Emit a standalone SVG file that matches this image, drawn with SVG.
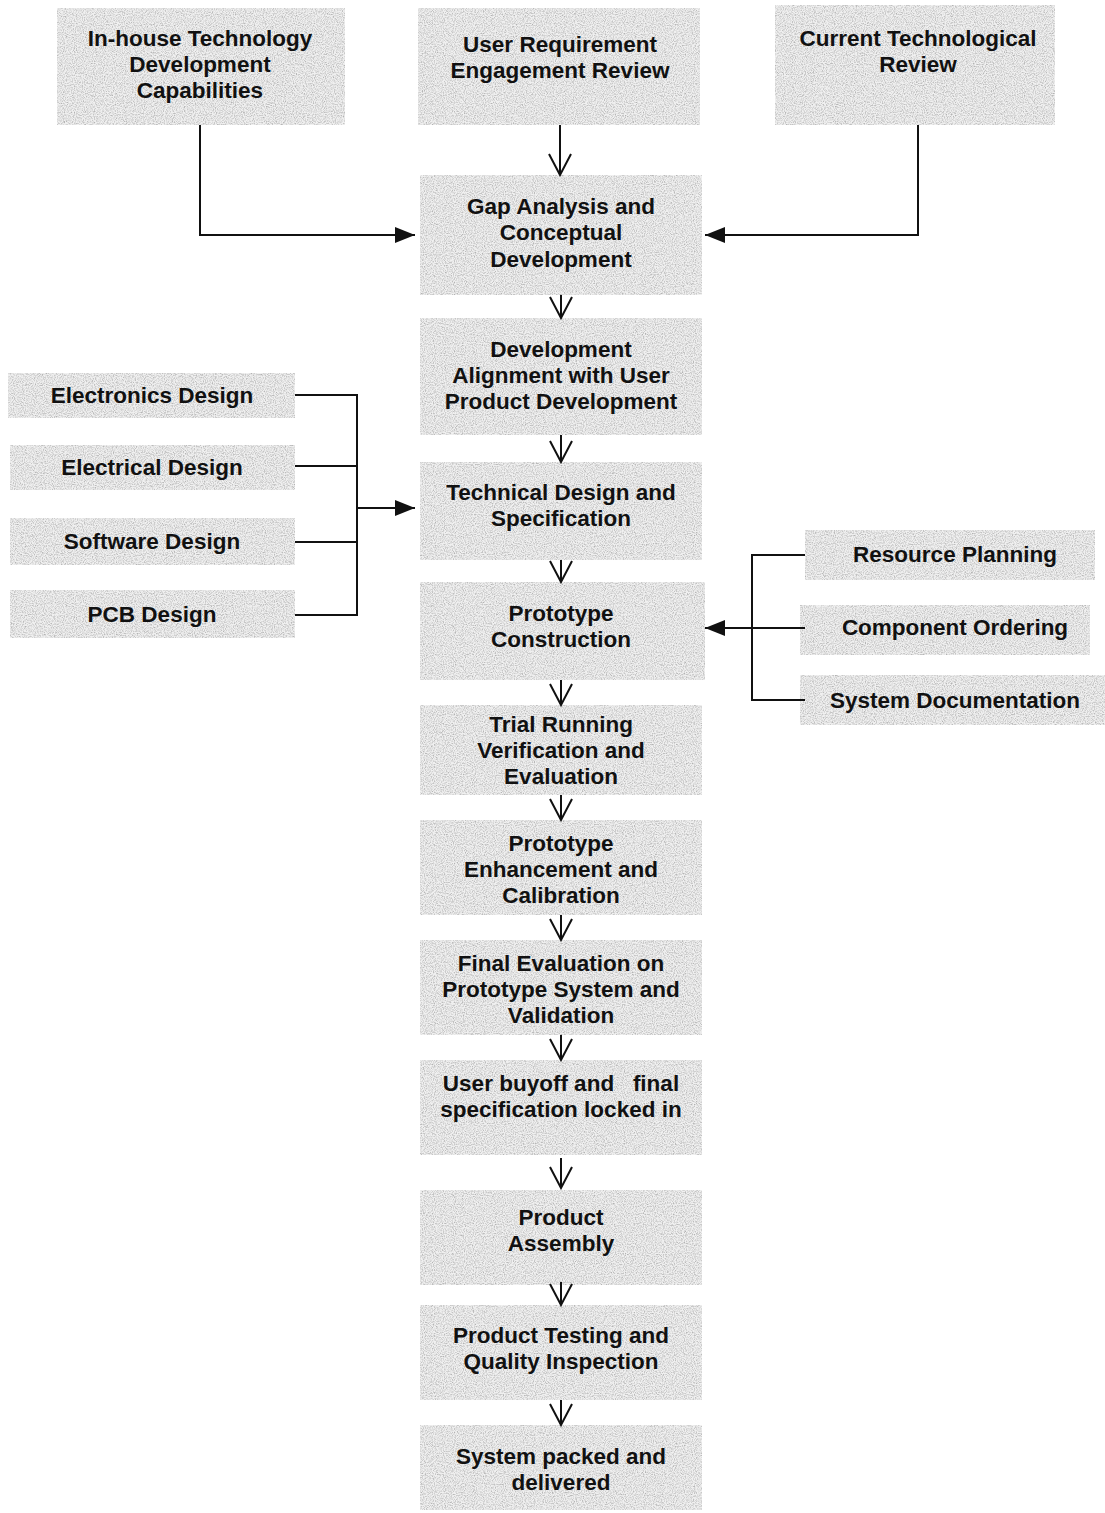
<svg xmlns="http://www.w3.org/2000/svg" width="1105" height="1513" viewBox="0 0 1105 1513">
<style>
.box{fill:#f0f0f0;filter:url(#speck)}
.t{font-family:"Liberation Sans",Arial,sans-serif;font-weight:bold;font-size:22.5px;fill:#111;text-anchor:middle}
.c{fill:none;stroke:#111;stroke-width:2}
</style>
<defs>
<filter id="speck" x="0" y="0" width="1" height="1">
<feTurbulence type="fractalNoise" baseFrequency="0.9" numOctaves="2" seed="3" result="n"/>
<feColorMatrix in="n" type="matrix" values="0 0 0 0 0.45  0 0 0 0 0.45  0 0 0 0 0.45  0 0 0 -2.2 1.35" result="d"/>
<feComposite in="d" in2="SourceGraphic" operator="in" result="dm"/>
<feMerge><feMergeNode in="SourceGraphic"/><feMergeNode in="dm"/></feMerge>
</filter>
<marker id="fill" viewBox="0 0 20 20" refX="20" refY="10" markerWidth="20" markerHeight="20" markerUnits="userSpaceOnUse" orient="auto">
<path d="M0,2 L20,10 L0,18 Z" fill="#111"/>
</marker>
<marker id="open" viewBox="0 0 24 24" refX="12" refY="22" markerWidth="24" markerHeight="24" markerUnits="userSpaceOnUse" orient="0">
<path d="M1,1 L12,22 L23,1" fill="none" stroke="#111" stroke-width="2"/>
</marker>
</defs>

<g id="n-inhouse"><rect class="box" x="57" y="8" width="288" height="117"/><text class="t" x="200" y="46">In-house Technology</text><text class="t" x="200" y="72">Development</text><text class="t" x="200" y="98">Capabilities</text></g>
<g id="n-userreq"><rect class="box" x="418" y="8" width="282" height="117"/><text class="t" x="560" y="52">User Requirement</text><text class="t" x="560" y="78">Engagement Review</text></g>
<g id="n-current"><rect class="box" x="775" y="5" width="280" height="120"/><text class="t" x="918" y="46">Current Technological</text><text class="t" x="918" y="72">Review</text></g>

<g id="n-gap"><rect class="box" x="420" y="175" width="282" height="120"/><text class="t" x="561" y="214">Gap Analysis and</text><text class="t" x="561" y="240">Conceptual</text><text class="t" x="561" y="267">Development</text></g>
<g id="n-align"><rect class="box" x="420" y="318" width="282" height="117"/><text class="t" x="561" y="357">Development</text><text class="t" x="561" y="383">Alignment with User</text><text class="t" x="561" y="409">Product Development</text></g>
<g id="n-tech"><rect class="box" x="420" y="462" width="282" height="98"/><text class="t" x="561" y="500">Technical Design and</text><text class="t" x="561" y="526">Specification</text></g>
<g id="n-proto"><rect class="box" x="420" y="582" width="285" height="98"/><text class="t" x="561" y="621">Prototype</text><text class="t" x="561" y="647">Construction</text></g>
<g id="n-trial"><rect class="box" x="420" y="705" width="282" height="90"/><text class="t" x="561" y="732">Trial Running</text><text class="t" x="561" y="758">Verification and</text><text class="t" x="561" y="784">Evaluation</text></g>
<g id="n-enh"><rect class="box" x="420" y="820" width="282" height="95"/><text class="t" x="561" y="851">Prototype</text><text class="t" x="561" y="877">Enhancement and</text><text class="t" x="561" y="903">Calibration</text></g>
<g id="n-final"><rect class="box" x="420" y="940" width="282" height="95"/><text class="t" x="561" y="971">Final Evaluation on</text><text class="t" x="561" y="997">Prototype System and</text><text class="t" x="561" y="1023">Validation</text></g>
<g id="n-buyoff"><rect class="box" x="420" y="1060" width="282" height="95"/><text class="t" x="561" y="1091" xml:space="preserve">User buyoff and   final</text><text class="t" x="561" y="1117">specification locked in</text></g>
<g id="n-assembly"><rect class="box" x="420" y="1190" width="282" height="95"/><text class="t" x="561" y="1225">Product</text><text class="t" x="561" y="1251">Assembly</text></g>
<g id="n-testing"><rect class="box" x="420" y="1305" width="282" height="95"/><text class="t" x="561" y="1343">Product Testing and</text><text class="t" x="561" y="1369">Quality Inspection</text></g>
<g id="n-packed"><rect class="box" x="420" y="1425" width="282" height="85"/><text class="t" x="561" y="1464">System packed and</text><text class="t" x="561" y="1490">delivered</text></g>

<g id="n-electronics"><rect class="box" x="8" y="373" width="287" height="45"/><text class="t" x="152" y="403">Electronics Design</text></g>
<g id="n-electrical"><rect class="box" x="10" y="445" width="285" height="45"/><text class="t" x="152" y="475">Electrical Design</text></g>
<g id="n-software"><rect class="box" x="10" y="518" width="285" height="47"/><text class="t" x="152" y="549">Software Design</text></g>
<g id="n-pcb"><rect class="box" x="10" y="590" width="285" height="48"/><text class="t" x="152" y="622">PCB Design</text></g>

<g id="n-resource"><rect class="box" x="805" y="530" width="290" height="50"/><text class="t" x="955" y="562">Resource Planning</text></g>
<g id="n-component"><rect class="box" x="800" y="605" width="290" height="50"/><text class="t" x="955" y="635">Component Ordering</text></g>
<g id="n-sysdoc"><rect class="box" x="800" y="675" width="305" height="50"/><text class="t" x="955" y="708">System Documentation</text></g>

<g id="connectors">
<path class="c" d="M560,125 V175" marker-end="url(#open)"/>
<path class="c" d="M200,125 V235 H415" marker-end="url(#fill)"/>
<path class="c" d="M918,125 V235 H705" marker-end="url(#fill)"/>
<path class="c" d="M561,295 V318" marker-end="url(#open)"/>
<path class="c" d="M561,435 V462" marker-end="url(#open)"/>
<path class="c" d="M561,560 V582" marker-end="url(#open)"/>
<path class="c" d="M561,680 V705" marker-end="url(#open)"/>
<path class="c" d="M561,795 V820" marker-end="url(#open)"/>
<path class="c" d="M561,915 V940" marker-end="url(#open)"/>
<path class="c" d="M561,1035 V1060" marker-end="url(#open)"/>
<path class="c" d="M561,1158 V1188" marker-end="url(#open)"/>
<path class="c" d="M561,1282 V1305" marker-end="url(#open)"/>
<path class="c" d="M561,1400 V1425" marker-end="url(#open)"/>
<path class="c" d="M295,395 H357 V615 H295"/>
<path class="c" d="M295,466 H357"/>
<path class="c" d="M295,542 H357"/>
<path class="c" d="M357,508 H415" marker-end="url(#fill)"/>
<path class="c" d="M805,555 H752 V700 H805"/>
<path class="c" d="M805,628 H705" marker-end="url(#fill)"/>
</g>
</svg>
